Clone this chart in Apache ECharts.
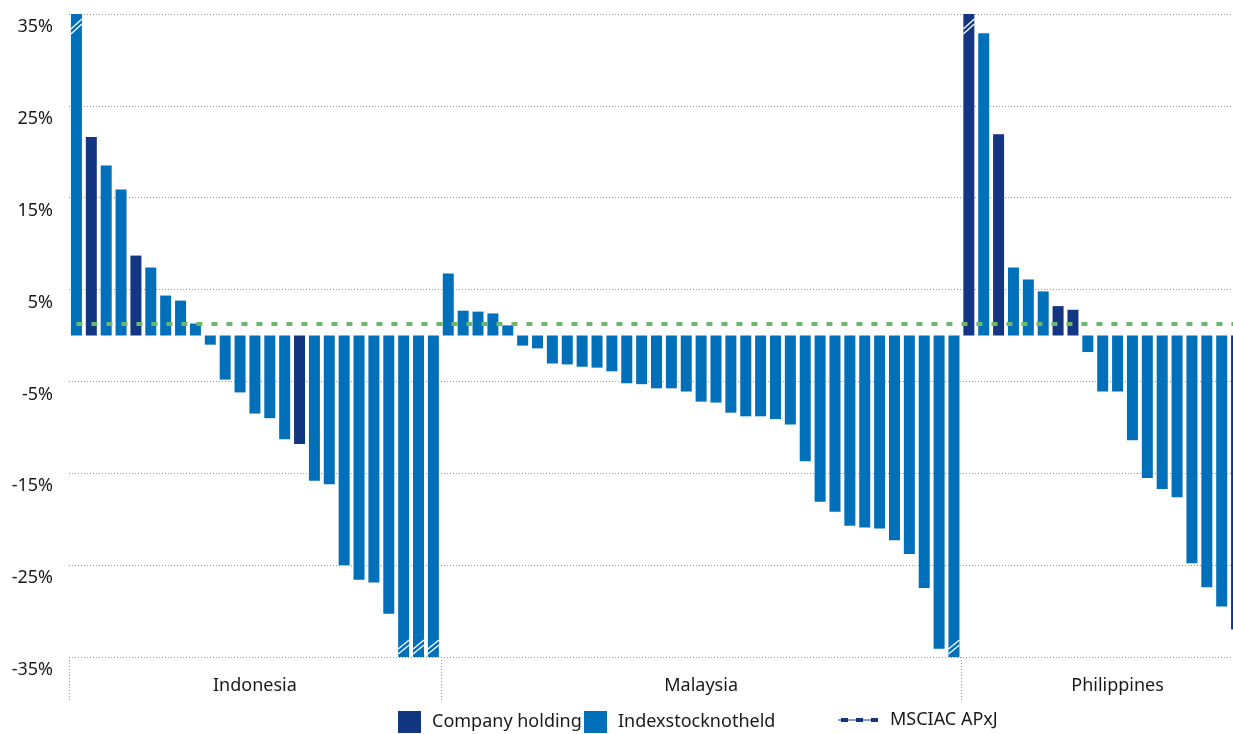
<!DOCTYPE html>
<html>
<head>
<meta charset="utf-8">
<script src="https://cdn.jsdelivr.net/npm/echarts@6/dist/echarts.min.js"></script>
<style>
html,body{margin:0;padding:0;background:#ffffff;}
#chart{width:1233px;height:734px;}
</style>
</head>
<body>
<div id="chart"></div>
<script>
// ---------------- DATA ----------------
const countries = ['Indonesia', 'Malaysia', 'Philippines'];

// relative performance (%) per stock, sorted as in the picture; bars beyond ±35 are cut off
const indonesiaValues = [42, 21.6, 18.5, 15.9, 8.7, 7.4, 4.35, 3.8, 1.3, -1.0, -4.8, -6.2, -8.5, -9.0, -11.3, -11.8, -15.8, -16.2, -25.0, -26.6, -26.9, -30.3, -40, -40, -40];
const indonesiaHeld   = [0, 1, 0, 0, 1, 0, 0, 0, 0, 0, 0, 0, 0, 0, 0, 1, 0, 0, 0, 0, 0, 0, 0, 0, 0];

const malaysiaValues = [6.75, 2.7, 2.6, 2.4, 1.1, -1.1, -1.4, -3.05, -3.15, -3.4, -3.5, -3.9, -5.2, -5.3, -5.75, -5.75, -6.1, -7.2, -7.3, -8.4, -8.8, -8.8, -9.1, -9.7, -13.7, -18.1, -19.2, -20.7, -20.9, -21.0, -22.3, -23.8, -27.5, -34.1, -40];
const malaysiaHeld   = [0, 0, 0, 0, 0, 0, 0, 0, 0, 0, 0, 0, 0, 0, 0, 0, 0, 0, 0, 0, 0, 0, 0, 0, 0, 0, 0, 0, 0, 0, 0, 0, 0, 0, 0];

const philippinesValues = [42, 32.9, 21.9, 7.4, 6.1, 4.8, 3.2, 2.8, -1.8, -6.1, -6.1, -11.4, -15.5, -16.7, -17.6, -24.8, -27.4, -29.5, -32.0];
const philippinesHeld   = [1, 0, 1, 0, 0, 0, 1, 1, 0, 0, 0, 0, 0, 0, 0, 0, 0, 0, 1];

const seriesNames = ['Company holding', 'Indexstocknotheld'];
const benchmarkName = 'MSCIAC APxJ';
const benchmarkValue = 1.3;

const yTickLabels = ['-35%', '-25%', '-15%', '-5%', '5%', '15%', '25%', '35%'];
const axisMin = -35;
const axisMax = 35;

// ---------------- STYLE / LAYOUT ----------------
const NAVY = '#133682';
const BLUE = '#0070BA';
const GREEN = '#6CB868';
const TEXT = '#1a1a1a';
const GRIDC = '#999999';
const FONT = 'Noto Sans';
const groupLabelOffset = [12, 17, 10]; // position of country name inside each group

// ---------------- BUILD ----------------
const groups = [
  { name: countries[0], values: indonesiaValues, held: indonesiaHeld },
  { name: countries[1], values: malaysiaValues, held: malaysiaHeld },
  { name: countries[2], values: philippinesValues, held: philippinesHeld }
];

const categories = [];
const heldData = [];
const notHeldData = [];
const breakData = [];
const groupStart = [];
const labelAt = {};
groups.forEach((g, gi) => {
  groupStart.push(categories.length);
  labelAt[categories.length + groupLabelOffset[gi]] = g.name;
  g.values.forEach((v, i) => {
    const idx = categories.length;
    categories.push(g.name + ' ' + (i + 1));
    heldData.push(g.held[i] ? v : null);
    notHeldData.push(g.held[i] ? null : v);
    if (v > axisMax) breakData.push([idx, axisMax]);
    if (v < axisMin) breakData.push([idx, axisMin]);
  });
});

const chart = echarts.init(document.getElementById('chart'), null, { renderer: 'canvas' });

function legendCfg(left, item, itemWidth, padLeft) {
  return {
    left: left, top: 711, padding: 0, orient: 'horizontal',
    itemWidth: itemWidth, itemHeight: 22, selectedMode: false,
    data: [item],
    textStyle: { fontSize: 18, color: TEXT, fontFamily: FONT, padding: [0, 0, 0, padLeft] }
  };
}

const option = {
  animation: false,
  backgroundColor: '#ffffff',
  grid: { left: 69, top: 14, width: 1175, height: 643, containLabel: false, outerBoundsMode: 'none' },
  legend: [
    legendCfg(398, { name: seriesNames[0], icon: 'rect' }, 23, 6),
    legendCfg(584, { name: seriesNames[1], icon: 'rect' }, 23, 6),
    legendCfg(838, { name: benchmarkName, icon: 'path://M0,1.6h40v0.8h-40zM3,0h7v4h-7zM18,0h7v4h-7zM33,0h7v4h-7z', itemStyle: { color: NAVY } }, 40, 7)
  ],
  xAxis: [
    {
      type: 'category', position: 'bottom', data: categories, boundaryGap: true,
      axisLine: { show: false }, axisTick: { show: false }, axisLabel: { show: false }, splitLine: { show: false }
    },
    {
      type: 'category', position: 'bottom', data: categories, boundaryGap: true,
      axisLine: { show: false },
      axisTick: {
        show: true, length: 43, inside: false,
        interval: function (idx) { return groupStart.indexOf(idx) >= 0; },
        lineStyle: { type: [1, 2], color: GRIDC, width: 1 }
      },
      axisLabel: {
        show: true, margin: 20, fontSize: 18, color: TEXT, fontFamily: FONT,
        interval: function (idx) { return labelAt[idx] !== undefined; },
        formatter: function (v, idx) { return labelAt[idx] || ''; }
      },
      splitLine: { show: false }
    }
  ],
  yAxis: [
    { type: 'value', min: axisMin, max: axisMax, show: false },
    {
      type: 'value', position: 'left', min: 0, max: axisMax - axisMin, interval: 10,
      axisLine: { show: false }, axisTick: { show: false },
      axisLabel: {
        show: true, margin: 16, fontSize: 18, color: TEXT, fontFamily: FONT, verticalAlign: 'top',
        padding: [4, 0, 0, 0],
        formatter: function (v, idx) { return yTickLabels[idx]; }
      },
      splitLine: { show: true, lineStyle: { type: [1, 2], color: GRIDC, width: 1 } }
    }
  ],
  series: [
    {
      name: seriesNames[0], type: 'bar', xAxisIndex: 0, yAxisIndex: 0,
      data: heldData, barWidth: 11, barGap: '-100%', clip: true,
      itemStyle: { color: NAVY }, z: 2
    },
    {
      name: seriesNames[1], type: 'bar', xAxisIndex: 0, yAxisIndex: 0,
      data: notHeldData, barWidth: 11, barGap: '-100%', clip: true,
      itemStyle: { color: BLUE }, z: 2
    },
    {
      name: 'breaks', type: 'custom', xAxisIndex: 0, yAxisIndex: 0, z: 3, silent: true, clip: false,
      data: breakData,
      renderItem: function (params, api) {
        const val = api.value(1);
        const p = api.coord([api.value(0), val]);
        const x0 = p[0] - 5.5, x1 = p[0] + 5.5, y = p[1];
        const offs = val > 0 ? [[15, 5], [20, 10]] : [[-3, -12], [-8, -17]];
        return {
          type: 'group',
          children: offs.map(function (o) {
            return { type: 'line', shape: { x1: x0, y1: y + o[0], x2: x1, y2: y + o[1] },
                     style: { stroke: '#ffffff', lineWidth: 1.3 } };
          })
        };
      }
    },
    {
      name: benchmarkName, type: 'line', xAxisIndex: 0, yAxisIndex: 0, z: 5,
      data: [], itemStyle: { color: GREEN }, lineStyle: { color: GREEN },
      markLine: {
        silent: true, symbol: ['none', 'none'], label: { show: false },
        lineStyle: { color: GREEN, width: 4, type: [6, 9], opacity: 1 },
        data: [[{ coord: [categories[0], benchmarkValue] }, { coord: [categories[categories.length - 1], benchmarkValue] }]]
      }
    }
  ]
};

chart.setOption(option);
</script>
</body>
</html>
